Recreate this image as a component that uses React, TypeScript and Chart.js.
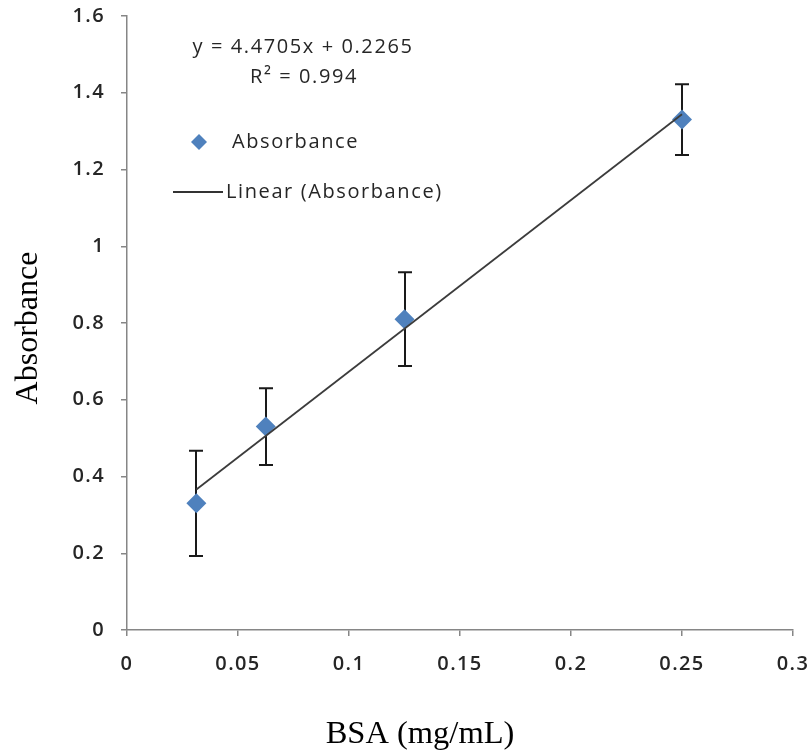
import { useEffect, useRef } from "react";
import { Chart, registerables } from "chart.js";

Chart.register(...registerables);

// ---- data ----
const concentrations = [0.03125, 0.0625, 0.125, 0.25];
const absorbance = [0.33, 0.53, 0.81, 1.33];
const absorbanceError = [0.137, 0.1, 0.122, 0.092];
const trendSlope = 4.4705;
const trendIntercept = 0.2265;
const rSquared = 0.994;
const xTickLabels = ["0", "0.05", "0.1", "0.15", "0.2", "0.25", "0.3"];
const yTickLabels = ["0", "0.2", "0.4", "0.6", "0.8", "1", "1.2", "1.4", "1.6"];
const seriesName = "Absorbance";
const trendName = "Linear (Absorbance)";
const xTitle = "BSA (mg/mL)";
const yTitle = "Absorbance";

const POINT_COLOR = "#4F81BD";
const AXIS_COLOR = "#868686";
const TEXT_COLOR = "#262626";
const SANS = "'Open Sans', Lato, sans-serif";
const SERIF = "'Liberation Serif', 'Times New Roman', serif";
const SPACING = "1.4px";

const spacingPlugin = {
  id: "spacing",
  beforeUpdate(chart: any) {
    chart.ctx.letterSpacing = SPACING;
  },
  beforeDraw(chart: any) {
    chart.ctx.letterSpacing = SPACING;
  },
};

const errorBarsPlugin = {
  id: "errorBars",
  beforeDatasetsDraw(chart: any) {
    const { ctx, scales } = chart;
    const x = scales.x;
    const y = scales.y;
    ctx.save();
    ctx.strokeStyle = "#1a1a1a";
    ctx.lineWidth = 2;
    concentrations.forEach((c, i) => {
      const px = Math.round(x.getPixelForValue(c));
      const top = y.getPixelForValue(absorbance[i] + absorbanceError[i]);
      const bot = y.getPixelForValue(absorbance[i] - absorbanceError[i]);
      ctx.beginPath();
      ctx.moveTo(px, top);
      ctx.lineTo(px, bot);
      ctx.moveTo(px - 7, top);
      ctx.lineTo(px + 7, top);
      ctx.moveTo(px - 7, bot);
      ctx.lineTo(px + 7, bot);
      ctx.stroke();
    });
    ctx.restore();
  },
};

const annotationPlugin = {
  id: "annotation",
  afterDraw(chart: any) {
    const { ctx } = chart;
    ctx.save();
    ctx.letterSpacing = "1.6px";
    ctx.fillStyle = TEXT_COLOR;
    ctx.textBaseline = "middle";
    // equation
    ctx.font = `500 20px ${SANS}`;
    ctx.textAlign = "center";
    ctx.fillText(`y = ${trendSlope}x + ${trendIntercept}`, 303, 47);
    ctx.fillText(`R² = ${rSquared}`, 304, 77);
    // legend
    ctx.textAlign = "left";
    ctx.fillText(seriesName, 232, 142);
    ctx.fillText(trendName, 226, 192);
    // diamond marker
    ctx.fillStyle = POINT_COLOR;
    ctx.beginPath();
    ctx.moveTo(199, 134);
    ctx.lineTo(207, 142);
    ctx.lineTo(199, 150);
    ctx.lineTo(191, 142);
    ctx.closePath();
    ctx.fill();
    // line marker
    ctx.strokeStyle = "#333";
    ctx.lineWidth = 2;
    ctx.beginPath();
    ctx.moveTo(173, 192);
    ctx.lineTo(223, 192);
    ctx.stroke();

    // axis titles
    ctx.letterSpacing = "0px";
    ctx.fillStyle = "#000";
    ctx.textBaseline = "alphabetic";
    ctx.textAlign = "center";
    ctx.font = `32.5px ${SERIF}`;
    ctx.fillText(xTitle, 420, 743);
    ctx.save();
    ctx.translate(37, 328);
    ctx.rotate(-Math.PI / 2);
    ctx.font = `32px ${SERIF}`;
    ctx.fillText(yTitle, 0, 0);
    ctx.restore();
    ctx.restore();
  },
};

export default function App() {
  const canvasRef = useRef<HTMLCanvasElement | null>(null);

  useEffect(() => {
    document.body.style.margin = "0";
    const canvas = canvasRef.current;
    if (!canvas) return;
    const x0 = concentrations[0];
    const x1 = concentrations[concentrations.length - 1];
    const chart = new Chart(canvas, {
      type: "scatter",
      data: {
        datasets: [
          {
            label: trendName,
            data: [
              { x: x0, y: trendSlope * x0 + trendIntercept },
              { x: x1, y: trendSlope * x1 + trendIntercept },
            ],
            showLine: true,
            borderColor: "#3c3c3c",
            borderWidth: 1.8,
            pointRadius: 0,
            order: 0,
          },
          {
            label: seriesName,
            data: concentrations.map((c, i) => ({ x: c, y: absorbance[i] })),
            pointStyle: "rectRot",
            pointRadius: 10,
            pointHoverRadius: 10,
            backgroundColor: POINT_COLOR,
            borderWidth: 0,
            showLine: false,
            order: 1,
          },
        ],
      },
      options: {
        responsive: false,
        animation: false,
        devicePixelRatio: 1,
        layout: { padding: { top: 16, right: 19, left: 0, bottom: 0 } },
        plugins: {
          legend: { display: false },
          tooltip: { enabled: false },
        },
        scales: {
          x: {
            type: "linear",
            position: "bottom",
            min: 0,
            max: 0.3,
            afterFit(scale: any) {
              scale.height = 120;
              scale.paddingLeft = 0;
              scale.paddingRight = 0;
            },
            ticks: {
              stepSize: 0.05,
              autoSkip: false,
              maxRotation: 0,
              padding: 16,
              color: TEXT_COLOR,
              font: { family: SANS, size: 20, weight: "600" },
              callback: (_v: any, i: number) => xTickLabels[i],
            },
            grid: {
              drawOnChartArea: false,
              drawTicks: true,
              tickLength: 6,
              color: AXIS_COLOR,
              lineWidth: 1.5,
            },
            border: { color: AXIS_COLOR, width: 1.5 },
            title: { display: false },
          },
          y: {
            type: "linear",
            min: 0,
            max: 1.6,
            afterFit(scale: any) {
              scale.width = 127;
              scale.paddingTop = 0;
              scale.paddingBottom = 0;
            },
            ticks: {
              stepSize: 0.2,
              autoSkip: false,
              padding: 16,
              color: TEXT_COLOR,
              font: { family: SANS, size: 20, weight: "600" },
              callback: (_v: any, i: number) => yTickLabels[i],
            },
            grid: {
              drawOnChartArea: false,
              drawTicks: true,
              tickLength: 6,
              color: AXIS_COLOR,
              lineWidth: 1.5,
            },
            border: { color: AXIS_COLOR, width: 1.5 },
            title: { display: false },
          },
        },
      },
      plugins: [spacingPlugin, errorBarsPlugin, annotationPlugin],
    });
    return () => chart.destroy();
  }, []);

  return <canvas ref={canvasRef} width={812} height={750} style={{ display: "block" }} />;
}
